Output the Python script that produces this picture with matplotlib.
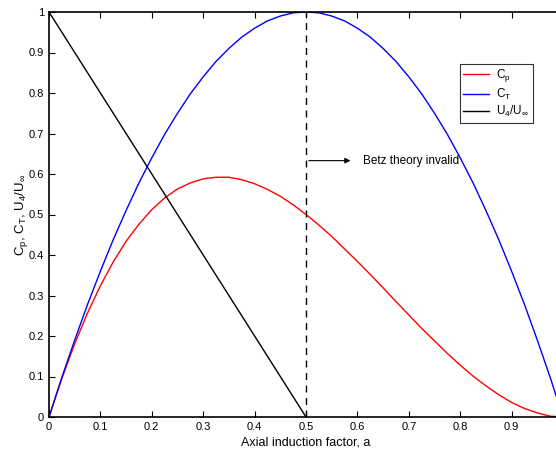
import matplotlib
matplotlib.use('Agg')
import matplotlib.pyplot as plt

# values
a_vals = [0.0, 0.025, 0.05, 0.075, 0.1, 0.125, 0.15, 0.175, 0.2, 0.225,
          0.25, 0.275, 0.3, 0.325, 0.35, 0.375, 0.4, 0.425, 0.45, 0.475,
          0.5, 0.525, 0.55, 0.575, 0.6, 0.625, 0.65, 0.675, 0.7, 0.725,
          0.75, 0.775, 0.8, 0.825, 0.85, 0.875, 0.9, 0.925, 0.95, 0.975, 1.0]
cp_vals = [0.0, 0.095, 0.181, 0.257, 0.324, 0.383, 0.434, 0.476, 0.512, 0.541,
           0.563, 0.578, 0.588, 0.592, 0.592, 0.586, 0.576, 0.562, 0.545, 0.524,
           0.5, 0.474, 0.446, 0.415, 0.384, 0.352, 0.319, 0.285, 0.252, 0.219,
           0.188, 0.157, 0.128, 0.101, 0.077, 0.055, 0.036, 0.021, 0.010, 0.002, 0.0]
ct_vals = [0.0, 0.098, 0.19, 0.278, 0.36, 0.438, 0.51, 0.578, 0.64, 0.698,
           0.75, 0.798, 0.84, 0.878, 0.91, 0.938, 0.96, 0.978, 0.99, 0.998,
           1.0, 0.998, 0.99, 0.978, 0.96, 0.938, 0.91, 0.878, 0.84, 0.798,
           0.75, 0.698, 0.64, 0.578, 0.51, 0.438, 0.36, 0.278, 0.19, 0.098, 0.0]
u_a = [0.0, 0.5]
u_vals = [1.0, 0.0]

x_ticks = [0, 0.1, 0.2, 0.3, 0.4, 0.5, 0.6, 0.7, 0.8, 0.9]
y_ticks = [0, 0.1, 0.2, 0.3, 0.4, 0.5, 0.6, 0.7, 0.8, 0.9, 1]

plt.rcParams['font.family'] = ['Liberation Sans', 'DejaVu Sans']
plt.rcParams['mathtext.fontset'] = 'custom'
plt.rcParams['mathtext.rm'] = 'Liberation Sans'
plt.rcParams['mathtext.it'] = 'Liberation Sans'

W, H = 556, 455
fig = plt.figure(figsize=(W / 100, H / 100), dpi=100)
# axes runs a bit past the right edge of the figure, as in the cropped original
ax = fig.add_axes([49 / W, (H - 417) / H, 514 / W, 405 / H])

ax.plot(a_vals, cp_vals, color='red', linewidth=1, label=r'C$_\mathrm{p}$')
ax.plot(a_vals, ct_vals, color='blue', linewidth=1, label=r'C$_\mathrm{T}$')
ax.plot(u_a, u_vals, color='black', linewidth=1, label=r'U$_4$/U$_\infty$')
ax.plot([0.5, 0.5], [0, 1], color='black', linestyle='--', linewidth=1,
        dashes=(5, 4))

ax.annotate('', xy=(0.592, 0.633), xytext=(0.5, 0.633),
            arrowprops=dict(arrowstyle='-|>', color='black', lw=0.8,
                            mutation_scale=8))
ax.text(0.611, 0.633, 'Betz theory invalid', fontsize=8.5, va='center')

ax.set_xlim(0, 1)
ax.set_ylim(0, 1)
ax.set_xticks(x_ticks)
ax.set_xticklabels([f'{t:g}' for t in x_ticks])
ax.set_yticks(y_ticks)
ax.set_yticklabels([f'{t:g}' for t in y_ticks])
ax.tick_params(direction='in', top=True, right=True, labelsize=8, length=4)
for s in ax.spines.values():
    s.set_linewidth(1.2)

ax.set_xlabel('Axial induction factor, a', fontsize=9, labelpad=3)
ax.set_ylabel(r'C$_\mathrm{p}$, C$_\mathrm{T}$, U$_4$/U$_\infty$', fontsize=9.5)
# matlab puts the label close in, overlapping the tick labels a little
ax.yaxis.set_label_coords(-0.036, 0.5)

leg = ax.legend(loc='upper left', bbox_to_anchor=(405 / 514, 1 - 46 / 405),
                fontsize=8.5, frameon=True, fancybox=False, edgecolor='black',
                handlelength=2.2, borderpad=0.3, labelspacing=0.2,
                handletextpad=0.6)
leg.get_frame().set_linewidth(0.8)

fig.savefig('out.png', dpi=100)
